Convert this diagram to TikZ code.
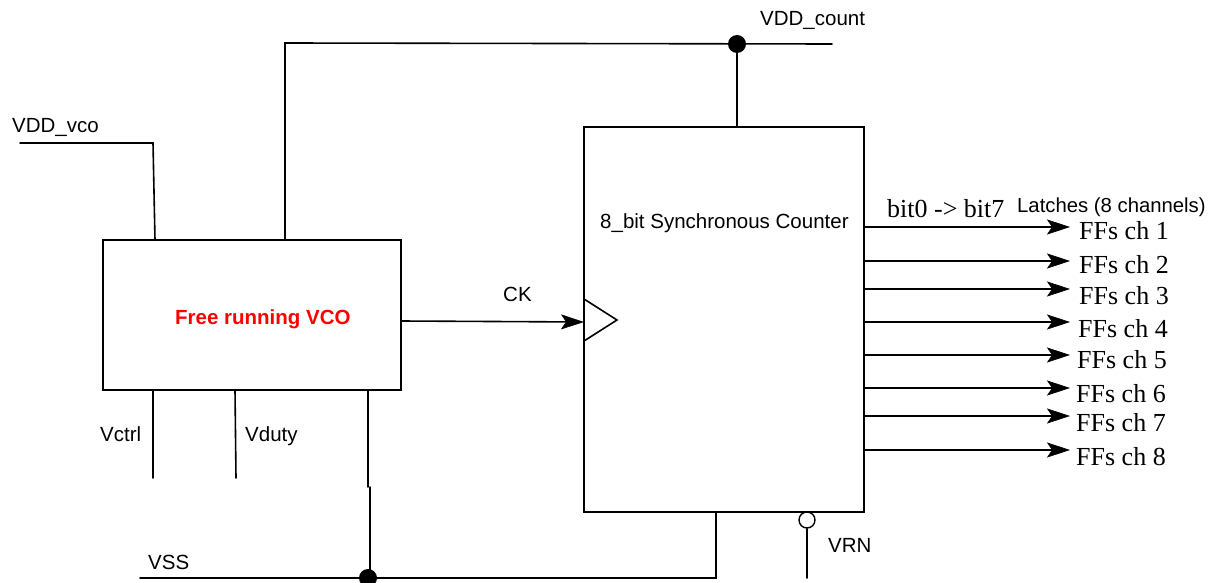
\documentclass[tikz,border=0pt]{standalone}
\usepackage{fontspec}
\setmainfont{Liberation Sans}
\newfontfamily\timesf{Liberation Serif}
\usetikzlibrary{arrows.meta}
\tikzset{
  wire/.style={line width=1.6pt,line cap=round,line join=miter},
  block/.style={draw,line width=1.6pt,rectangle,inner sep=0pt,outer sep=0pt,anchor=north west},
  lab/.style={anchor=base west,inner sep=0pt,font=\fontsize{20.5}{22}\selectfont},
  fflab/.style={anchor=base west,inner sep=0pt,font=\timesf\fontsize{26}{28}\selectfont},
  jdot/.style={circle,fill=black,inner sep=0pt,minimum size=18pt},
  arr/.style={wire,-{Stealth[length=23pt,width=15pt,inset=5pt,line width=0.6pt,fill=black]}}
}
\begin{document}
\begin{tikzpicture}[x=1pt,y=-1pt]
\useasboundingbox (0,0) rectangle (1208,583);
\clip (0,0) rectangle (1208,583);
% blocks
\node[block,minimum width=280pt,minimum height=385pt] (cnt) at (584,127) {};
\node[block,minimum width=298pt,minimum height=150pt] (vco) at (103,240) {};
% named points
\coordinate (topL) at (285,43);
\coordinate (topR) at (832,44);
\coordinate (vcoTop) at (285,240);
\coordinate (cntTop) at (737,127);
\node[jdot] (jtop) at (737,44) {};
\coordinate (vddS) at (20,143);
\coordinate (vddK) at (153,143);
\coordinate (vddE) at (155,240);
\coordinate (ctlA) at (153,390);
\coordinate (ctlB) at (153,478);
\coordinate (dutA) at (235,390);
\coordinate (dutB) at (236,478);
\coordinate (gndA) at (368,390);
\coordinate (gndB) at (368,487);
\coordinate (gndC) at (370,487);
\node[jdot] (jbot) at (368,578) {};
\coordinate (gndD) at (370,578);
\coordinate (vssS) at (140,578);
\coordinate (vssK) at (716,578);
\coordinate (vssE) at (716,512);
\node[circle,draw,line width=1.4pt,inner sep=0pt,minimum size=16pt] (vrnc) at (807,520) {};
\coordinate (vrnE) at (807,578);
\coordinate (ckS) at (401,321);
\coordinate (ckE) at (584,322);
\coordinate (t1) at (584,299);
\coordinate (t2) at (617,320);
\coordinate (t3) at (584,341);
% wires
\draw[wire] (vcoTop) -- (topL) -- (topR);
\draw[wire] (jtop) -- (cntTop);
\draw[wire] (vddS) -- (vddK) -- (vddE);
\draw[wire] (ctlA) -- (ctlB);
\draw[wire] (dutA) -- (dutB);
\draw[wire] (gndA) -- (gndB);
\draw[wire] (gndC) -- (gndD);
\draw[wire] (vssS) -- (vssK) -- (vssE);
\draw[wire] (vrnc) -- (vrnE);
\draw[arr] (ckS) -- (ckE);
\draw[wire,line join=miter] (t1) -- (t2) -- (t3);
% outputs
\foreach \n/\y/\x/\b in {1/227/1079/239,2/261/1079/273,3/289/1079/304,4/322/1078/337,5/355/1077/368,6/388/1076/402,7/416/1076/431,8/450/1076/465}{
  \coordinate (oS\n) at (864,\y);
  \coordinate (oE\n) at (1070,\y);
  \draw[arr] (oS\n) -- (oE\n);
  \node[fflab] (ff\n) at (\x,\b) {FFs ch \n};
}
% labels
\node[lab] (lcount) at (760,26) {VDD\_count};
\node[lab] (lvco) at (12,133) {VDD\_vco};
\node[lab] (lctl) at (100,441) {Vctrl};
\node[lab] (ldut) at (245,441) {Vduty};
\node[lab] (lvss) at (148,569) {VSS};
\node[lab] (lck) at (503,301) {CK};
\node[lab] (lvrn) at (828,552) {VRN};
\node[lab] (lcnt) at (600,229) {8\_bit Synchronous Counter};
\node[lab,text=red,font=\bfseries\fontsize{20.5}{23}\selectfont] (lfree) at (175,324) {Free running VCO};
\node[fflab] (lbit) at (887,218) {bit0 -> bit7};
\node[lab,font=\fontsize{20.3}{23}\selectfont] (llat) at (1017,212) {Latches (8 channels)};
\end{tikzpicture}
\end{document}
